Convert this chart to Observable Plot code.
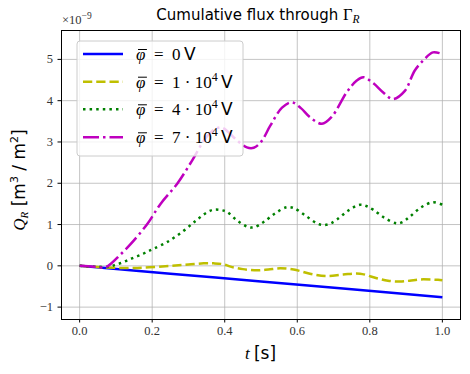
<!DOCTYPE html>
<html>
<head>
<meta charset="utf-8">
<script src="https://cdn.jsdelivr.net/npm/d3@7"></script>
<script src="https://cdn.jsdelivr.net/npm/@observablehq/plot@0.6"></script>
<style>
  html, body { margin: 0; padding: 0; background: #fff; }
  #chart svg { display: block; }
</style>
</head>
<body>
<div id="chart"></div>
<script>
// ---- data (Q_R in units of 1e-9) ----
const xTicks = [0, 0.2, 0.4, 0.6, 0.8, 1.0];
const yTicks = [-1, 0, 1, 2, 3, 4, 5];

const t0 = [0, 0.25, 0.5, 0.75, 1.0];
const q0 = [0, -0.19, -0.38, -0.57, -0.76];

const t1 = [0, 0.068, 0.159, 0.251, 0.3, 0.342, 0.37, 0.395, 0.416, 0.45, 0.489, 0.52, 0.553, 0.59, 0.635, 0.681, 0.727, 0.773, 0.819, 0.85, 0.883, 0.91, 0.937, 0.988, 1.0];
const q1 = [0, -0.04, -0.05, 0.0, 0.03, 0.06, 0.06, 0.04, -0.02, -0.08, -0.11, -0.09, -0.06, -0.09, -0.19, -0.25, -0.21, -0.19, -0.30, -0.36, -0.38, -0.36, -0.33, -0.34, -0.35];

const t4 = [0, 0.04, 0.081, 0.1, 0.118, 0.136, 0.152, 0.17, 0.188, 0.205, 0.242, 0.287, 0.324, 0.352, 0.37, 0.39, 0.407, 0.434, 0.462, 0.48, 0.507, 0.539, 0.571, 0.59, 0.622, 0.654, 0.672, 0.69, 0.709, 0.741, 0.773, 0.79, 0.809, 0.841, 0.874, 0.89, 0.91, 0.942, 0.974, 1.0];
const q4 = [0, -0.02, -0.02, 0.03, 0.08, 0.15, 0.21, 0.27, 0.35, 0.42, 0.58, 0.85, 1.12, 1.30, 1.36, 1.35, 1.30, 1.10, 0.95, 0.93, 1.06, 1.27, 1.42, 1.40, 1.22, 1.03, 0.99, 1.02, 1.12, 1.34, 1.48, 1.45, 1.36, 1.16, 1.03, 1.06, 1.19, 1.42, 1.54, 1.48];

const t7 = [0, 0.04, 0.072, 0.09, 0.11, 0.141, 0.187, 0.223, 0.269, 0.31, 0.342, 0.36, 0.375, 0.39, 0.405, 0.425, 0.461, 0.48, 0.5, 0.526, 0.558, 0.585, 0.61, 0.635, 0.668, 0.695, 0.736, 0.764, 0.782, 0.81, 0.837, 0.864, 0.896, 0.924, 0.951, 0.974, 1.0];
const q7 = [0, -0.02, -0.03, 0.08, 0.25, 0.53, 1.02, 1.50, 1.99, 2.55, 3.03, 3.22, 3.32, 3.35, 3.28, 3.11, 2.87, 2.86, 3.00, 3.40, 3.83, 3.96, 3.82, 3.60, 3.44, 3.61, 4.20, 4.49, 4.57, 4.42, 4.20, 4.04, 4.23, 4.73, 5.01, 5.17, 5.13];

const seriesLabels = ["0", "1", "4", "7"];
const colors = ["#0000ff", "#bfbf00", "#008000", "#bf00bf"];
const dashes = [null, "9.25,4", "2.5,4.1", "16,4,2.5,4"];

const toRows = (ts, qs) => ts.map((t, i) => ({t, q: qs[i]}));
const rows = [toRows(t0, q0), toRows(t1, q1), toRows(t4, q4), toRows(t7, q7)];

const serif = "'Liberation Serif', 'DejaVu Serif', serif";
const sans = "'DejaVu Sans', 'Liberation Sans', sans-serif";
const fmtY = d => d < 0 ? "\u2212" + (-d) : String(d);

const lineMarks = rows.map((r, i) => Plot.line(r, {
  x: "t", y: "q", stroke: colors[i], strokeWidth: 2.5,
  strokeDasharray: dashes[i] ?? undefined, strokeLinecap: "butt",
  curve: "catmull-rom"
}));

const chart = Plot.plot({
  width: 470, height: 374,
  marginLeft: 61, marginRight: 10, marginTop: 30, marginBottom: 55,
  style: {background: "#fff"},
  x: {domain: [-0.05, 1.05]},
  y: {domain: [-1.3, 5.7]},
  marks: [
    Plot.gridX(xTicks, {stroke: "#b0b0b0", strokeOpacity: 0.75, strokeWidth: 1}),
    Plot.gridY(yTicks, {stroke: "#b0b0b0", strokeOpacity: 0.75, strokeWidth: 1}),
    ...lineMarks,
    Plot.frame({stroke: "#000", strokeWidth: 1}),
    Plot.axisX({ticks: xTicks, tickFormat: d => d.toFixed(1), tickSize: 3.5, tickPadding: 3,
      fontSize: 12.5, fontFamily: serif, label: null, stroke: "#000", fill: "#333"}),
    Plot.axisY({ticks: yTicks, tickFormat: fmtY, tickSize: 3.5, tickPadding: 5,
      fontSize: 12.5, fontFamily: serif, label: null, stroke: "#000", fill: "#333"})
  ]
});
document.getElementById("chart").appendChild(chart);

const svg = d3.select(chart);

// title
const title = svg.append("text").attr("x", 258).attr("y", 20).attr("text-anchor", "middle")
  .attr("font-size", 15).attr("fill", "#000");
title.append("tspan").attr("font-family", sans).text("Cumulative flux through ");
title.append("tspan").attr("font-family", serif).attr("font-size", 16.5).text("\u0393");
title.append("tspan").attr("font-family", serif).attr("font-style", "italic").attr("font-size", 11.5).attr("dy", 3).text("R");

// offset text
const off = svg.append("text").attr("x", 62).attr("y", 24).attr("text-anchor", "start").attr("font-family", serif)
  .attr("font-size", 12.5).attr("fill", "#333");
off.append("tspan").text("\u00d710");
off.append("tspan").attr("dy", -5).attr("font-size", 9.5).text("\u22129");

// x label
const xl = svg.append("text").attr("x", 260.5).attr("y", 359).attr("text-anchor", "middle")
  .attr("font-size", 17).attr("fill", "#000");
xl.append("tspan").attr("font-family", serif).attr("font-style", "italic").text("t ");
xl.append("tspan").attr("font-family", sans).text("[s]");

// y label
const yl = svg.append("text").attr("transform", "translate(25,180) rotate(-90)")
  .attr("text-anchor", "middle").attr("font-size", 17).attr("fill", "#000");
yl.append("tspan").attr("font-family", serif).attr("font-style", "italic").text("Q");
yl.append("tspan").attr("font-family", serif).attr("font-style", "italic").attr("font-size", 11).attr("dy", 3).text("R");
yl.append("tspan").attr("font-family", sans).attr("dy", -3).text(" [m");
yl.append("tspan").attr("font-family", sans).attr("font-size", 11).attr("dy", -7).text("3");
yl.append("tspan").attr("font-family", sans).attr("dy", 7).text(" / m");
yl.append("tspan").attr("font-family", sans).attr("font-size", 11).attr("dy", -7).text("2");
yl.append("tspan").attr("font-family", sans).attr("dy", 7).text("]");

// legend
const lg = svg.append("g");
lg.append("rect").attr("x", 77).attr("y", 41).attr("width", 166).attr("height", 115)
  .attr("rx", 3).attr("fill", "#fff").attr("fill-opacity", 0.8).attr("stroke", "#ccc").attr("stroke-width", 1);
const rowY = [54, 81.7, 109.3, 137.3];
seriesLabels.forEach((lab, i) => {
  lg.append("line").attr("x1", 83).attr("x2", 123).attr("y1", rowY[i]).attr("y2", rowY[i])
    .attr("stroke", colors[i]).attr("stroke-width", 2.5).attr("stroke-linecap", "butt")
    .attr("stroke-dasharray", dashes[i]);
  const base = rowY[i] + 6;
  const tx = lg.append("text").attr("x", 136).attr("y", base).attr("text-anchor", "start")
    .attr("font-size", 17).attr("fill", "#000").style("white-space", "pre");
  tx.append("tspan").attr("font-family", serif).attr("font-style", "italic").text("\u03c6");
  tx.append("tspan").attr("font-family", serif).text("\u2002=\u2002" + lab + (lab === "0" ? "\u2009" : " \u00b7 10"));
  if (lab !== "0") {
    tx.append("tspan").attr("font-family", serif).attr("font-size", 12).attr("dy", -7).text("4");
    tx.append("tspan").attr("font-family", sans).attr("dy", 7).text("\u2009V");
  } else {
    tx.append("tspan").attr("font-family", sans).text("V");
  }
  // bar over phi
  const node = tx.node();
  const s = node.getStartPositionOfChar(0).x, e = node.getEndPositionOfChar(0).x;
  lg.append("line").attr("x1", s + 2).attr("x2", e + 1.5).attr("y1", base - 10.5).attr("y2", base - 10.5)
    .attr("stroke", "#000").attr("stroke-width", 1);
});
</script>
</body>
</html>
